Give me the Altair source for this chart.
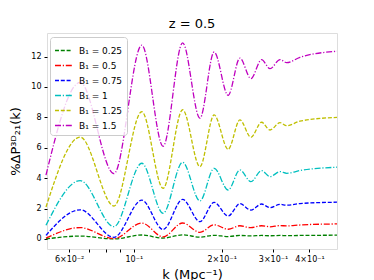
import altair as alt
import pandas as pd

k_vals = [0.05, 0.0655, 0.0855, 0.1065, 0.126, 0.147, 0.1685, 0.1885, 0.2105,
          0.231, 0.252, 0.274, 0.293, 0.317, 0.334, 0.371, 0.497]

b025 = [0.0, 0.19, 0.0, 0.26, 0.06, 0.27, 0.12, 0.24, 0.16, 0.23, 0.2, 0.23, 0.21, 0.23, 0.22, 0.23, 0.25]
b050 = [0.05, 0.75, 0.02, 1.05, 0.14, 1.05, 0.44, 0.93, 0.64, 0.87, 0.74, 0.87, 0.8, 0.88, 0.86, 0.92, 0.99]
b075 = [0.24, 1.92, 0.11, 2.55, 0.62, 2.6, 1.14, 2.41, 1.51, 2.32, 1.9, 2.3, 2.06, 2.28, 2.22, 2.33, 2.42]
b100 = [0.9, 3.84, 0.81, 4.98, 1.69, 5.05, 2.5, 4.65, 3.22, 4.54, 3.77, 4.5, 4.1, 4.43, 4.32, 4.5, 4.72]
b125 = [2.1, 6.7, 2.17, 8.37, 3.33, 8.5, 4.76, 8.16, 5.9, 7.83, 6.69, 7.68, 7.17, 7.65, 7.45, 7.75, 8.0]
b150 = [4.2, 10.3, 4.3, 12.75, 6.1, 12.9, 7.95, 12.3, 9.45, 11.9, 10.55, 11.8, 11.2, 11.8, 11.6, 11.95, 12.35]

series_names = ["B₁ = 0.25", "B₁ = 0.5", "B₁ = 0.75", "B₁ = 1", "B₁ = 1.25", "B₁ = 1.5"]
series_vals = [b025, b050, b075, b100, b125, b150]
colors = ["#008000", "#ff0000", "#0000ff", "#00bfbf", "#bfbf00", "#bf00bf"]
dashed = [4, 1.8]
dashdot = [6, 1.8, 1.2, 1.8]
dashes = [dashed, dashdot, dashed, dashdot, dashed, dashdot]

x_ticks = [0.06, 0.07, 0.08, 0.09, 0.1, 0.2, 0.3, 0.4]
y_ticks = [0, 2, 4, 6, 8, 10, 12]

rows = []
for name, vals in zip(series_names, series_vals):
    for kv, v in zip(k_vals, vals):
        rows.append({"k": kv, "val": v, "series": name})
df = pd.DataFrame(rows)

label_expr = ("round(datum.value*100)==6 ? '6×10⁻²' : round(datum.value*100)==10 ? '10⁻¹' : "
              "round(datum.value*100)==20 ? '2×10⁻¹' : round(datum.value*100)==30 ? '3×10⁻¹' : "
              "round(datum.value*100)==40 ? '4×10⁻¹' : ''")

chart = alt.Chart(df).mark_line(strokeWidth=1.3, interpolate="monotone").encode(
    x=alt.X("k:Q",
            scale=alt.Scale(type="log", domain=[0.0504, 0.497], nice=False),
            axis=alt.Axis(values=x_ticks, labelExpr=label_expr, title="k (Mpc⁻¹)",
                          grid=False, tickSize=3, labelFontSize=8, titleFontSize=13,
                          titleFontWeight="normal", labelColor="#000", tickColor="#000",
                          domain=False, titlePadding=5, labelPadding=3)),
    y=alt.Y("val:Q",
            scale=alt.Scale(domain=[-0.66, 13.55], nice=False, zero=False),
            axis=alt.Axis(values=y_ticks, title="%ΔP³ᴰ₂₁(k)", grid=False, tickSize=3,
                          labelFontSize=8, titleFontSize=13, titleFontWeight="normal",
                          labelColor="#000", tickColor="#000", domain=False,
                          titlePadding=8, labelPadding=3)),
    color=alt.Color("series:N", scale=alt.Scale(domain=series_names, range=colors),
                    sort=series_names,
                    legend=alt.Legend(title=None, orient="none", legendX=3, legendY=4,
                                      symbolType="stroke", symbolSize=289, symbolStrokeWidth=1.3,
                                      labelFontSize=9, fillColor="rgba(255,255,255,0.8)",
                                      strokeColor="#cccccc", cornerRadius=3, padding=4,
                                      rowPadding=-2.2, labelColor="#000", labelOffset=6)),
    strokeDash=alt.StrokeDash("series:N", scale=alt.Scale(domain=series_names, range=dashes),
                              sort=series_names, legend=None),
).properties(
    width=290, height=216,
    title=alt.Title("z = 0.5", fontSize=13, fontWeight="normal", color="#000", offset=2),
    autosize=alt.AutoSizeParams(type="none"),
    padding={"left": 39, "top": 25, "right": 29, "bottom": 31},
).configure_view(
    stroke="#000", strokeWidth=0.9
).configure(
    font="DejaVu Sans"
)

chart.save("out.html", embed_options={"renderer": "svg", "actions": False})
